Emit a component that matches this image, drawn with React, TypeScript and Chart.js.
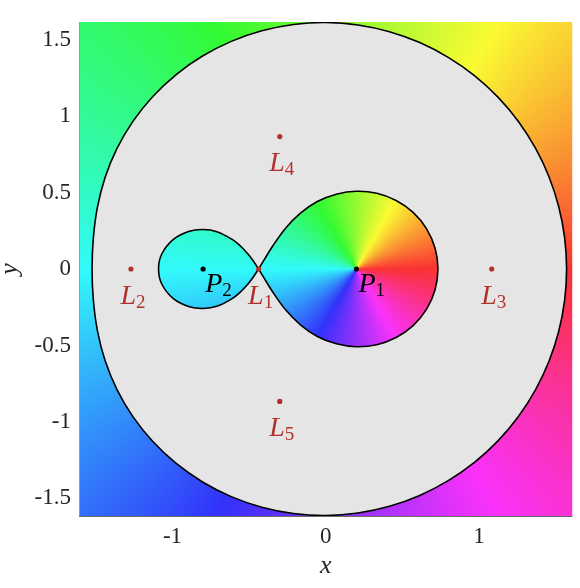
import React, { useEffect, useRef } from "react";
import { Chart, registerables } from "chart.js";

Chart.register(...registerables);

// ---- axes ----
const X_TICKS = [-1, 0, 1];
const X_TICK_LABELS = ["-1", "0", "1"];
const Y_TICKS = [-1.5, -1, -0.5, 0, 0.5, 1, 1.5];
const Y_TICK_LABELS = ["-1.5", "-1", "-0.5", "0", "0.5", "1", "1.5"];
const X_MIN = -1.61;
const X_MAX = 1.61;
const Y_MIN = -1.615;
const Y_MAX = 1.615;

// ---- outer zero-velocity curve (closed loop) ----
const OUTER_X = [1.5714, 1.5585, 1.5202, 1.4565, 1.3683, 1.257, 1.1236, 0.9702, 0.799, 0.6133, 0.4157, 0.2101, 0.0, -0.2105, -0.4174, -0.6165, -0.8039, -0.9758, -1.1283, -1.2583, -1.3628, -1.4405, -1.4906, -1.5166, -1.5248, -1.5166, -1.4906, -1.4405, -1.3628, -1.2583, -1.1283, -0.9758, -0.8039, -0.6165, -0.4174, -0.2105, 0.0, 0.2101, 0.4157, 0.6133, 0.799, 0.9702, 1.1236, 1.257, 1.3683, 1.4565, 1.5202, 1.5585];
const OUTER_Y = [0.0, 0.2052, 0.4073, 0.6033, 0.79, 0.9645, 1.1236, 1.2644, 1.3839, 1.4806, 1.5516, 1.5956, 1.6115, 1.5988, 1.5576, 1.4884, 1.3924, 1.2717, 1.1283, 0.9655, 0.7869, 0.5967, 0.3994, 0.1997, 0.0, -0.1997, -0.3994, -0.5967, -0.7869, -0.9655, -1.1283, -1.2717, -1.3924, -1.4884, -1.5576, -1.5988, -1.6115, -1.5956, -1.5516, -1.4806, -1.3839, -1.2644, -1.1236, -0.9645, -0.79, -0.6033, -0.4073, -0.2052];

// ---- lobe around P1 (starts and ends at L1) ----
const LOBE1_X = [-0.438, -0.406, -0.348, -0.262, -0.165, -0.055, 0.069, 0.2, 0.333, 0.459, 0.57, 0.657, 0.713, 0.732, 0.713, 0.657, 0.57, 0.459, 0.333, 0.2, 0.069, -0.055, -0.165, -0.262, -0.348, -0.406, -0.438];
const LOBE1_Y = [0.0, 0.053, 0.147, 0.267, 0.365, 0.441, 0.489, 0.508, 0.495, 0.448, 0.37, 0.264, 0.137, 0.0, -0.137, -0.264, -0.37, -0.448, -0.495, -0.508, -0.489, -0.441, -0.365, -0.267, -0.147, -0.053, 0.0];

// ---- lobe around P2 (starts and ends at L1) ----
const LOBE2_X = [-0.438, -0.476, -0.513, -0.55, -0.608, -0.711, -0.8, -0.89, -0.994, -1.07, -1.091, -1.07, -0.994, -0.89, -0.8, -0.711, -0.608, -0.55, -0.513, -0.476, -0.438];
const LOBE2_Y = [0.0, 0.057, 0.104, 0.144, 0.192, 0.244, 0.258, 0.247, 0.194, 0.098, 0.0, -0.098, -0.194, -0.247, -0.258, -0.244, -0.192, -0.144, -0.104, -0.057, 0.0];

// ---- primaries ----
const PRIMARY_NAMES = ["P", "P"];
const PRIMARY_SUBS = ["1", "2"];
const PRIMARY_X = [0.2, -0.8];
const PRIMARY_Y = [0, 0];

// ---- Lagrange points ----
const LAGRANGE_NAMES = ["L", "L", "L", "L", "L"];
const LAGRANGE_SUBS = ["1", "2", "3", "4", "5"];
const LAGRANGE_X = [-0.438, -1.271, 1.083, -0.3, -0.3];
const LAGRANGE_Y = [0, 0, 0, 0.866, -0.866];

const toPts = (xs: number[], ys: number[]) => xs.map((x, i) => ({ x, y: ys[i] }));

const LAG_COLOR = "#b2302a";
const GRAY = "#e5e5e5";
const SERIF = '"Liberation Serif", "DejaVu Serif", serif';

function hsv(h: number, s: number, v: number) {
  const f = (n: number) => {
    const k = (n + h / 60) % 6;
    return v - v * s * Math.max(0, Math.min(k, 4 - k, 1));
  };
  return `rgb(${Math.round(f(5) * 255)},${Math.round(f(3) * 255)},${Math.round(f(1) * 255)})`;
}

function hueGradient(ctx: CanvasRenderingContext2D, cx: number, cy: number) {
  const anyCtx = ctx as any;
  if (typeof anyCtx.createConicGradient !== "function") return null;
  const g = anyCtx.createConicGradient(0, cx, cy);
  for (let k = 0; k <= 12; k++) {
    const t = k / 12;
    const hue = (360 - 30 * k) % 360;
    g.addColorStop(t, hsv(hue, 0.8, 0.98));
  }
  return g;
}

function tracePath(chart: any, index: number) {
  const line = chart.getDatasetMeta(index).dataset;
  if (!line) return;
  if (typeof line.updateControlPoints === "function") line.updateControlPoints(chart.chartArea, "x");
  const ctx = chart.ctx;
  ctx.beginPath();
  if (typeof line.path === "function") {
    line.path(ctx);
  } else {
    line.points.forEach((p: any, i: number) => (i ? ctx.lineTo(p.x, p.y) : ctx.moveTo(p.x, p.y)));
  }
  ctx.closePath();
}

const hillPlugin = {
  id: "hill",
  afterDatasetUpdate(chart: any, args: any) {
    const ds = chart.data.datasets[args.index];
    if (ds && ds.closedLoop && args.meta.dataset) {
      args.meta.dataset._loop = true;
      args.meta.dataset._fullLoop = true;
    }
  },
  beforeDatasetsDraw(chart: any) {
    const { ctx, chartArea: a, scales } = chart;
    const cx = scales.x.getPixelForValue(PRIMARY_X[0]);
    const cy = scales.y.getPixelForValue(PRIMARY_Y[0]);
    const grad = hueGradient(ctx, cx, cy);
    ctx.save();
    ctx.beginPath();
    ctx.rect(a.left, a.top, a.right - a.left, a.bottom - a.top);
    ctx.clip();
    const paintHue = () => {
      if (grad) {
        ctx.fillStyle = grad;
        ctx.fill();
      } else {
        ctx.save();
        ctx.clip();
        for (let d = 0; d < 360; d++) {
          ctx.beginPath();
          ctx.moveTo(cx, cy);
          ctx.arc(cx, cy, 2000, (-d - 0.6) * Math.PI / 180, (-d + 0.6) * Math.PI / 180);
          ctx.closePath();
          ctx.fillStyle = hsv(d, 0.8, 0.98);
          ctx.fill();
        }
        ctx.restore();
      }
    };
    ctx.beginPath();
    ctx.rect(a.left, a.top, a.right - a.left, a.bottom - a.top);
    paintHue();
    tracePath(chart, 4);
    ctx.fillStyle = GRAY;
    ctx.fill();
    tracePath(chart, 2);
    paintHue();
    tracePath(chart, 3);
    paintHue();
    ctx.restore();
  },
  afterDatasetsDraw(chart: any) {
    const { ctx, chartArea: a, scales } = chart;
    ctx.save();
    ctx.lineWidth = 1;
    ctx.strokeStyle = "#9a9a9a";
    ctx.beginPath();
    ctx.moveTo(a.left + 0.5, a.top);
    ctx.lineTo(a.left + 0.5, a.bottom);
    ctx.stroke();
    ctx.strokeStyle = "#6e6e6e";
    ctx.beginPath();
    ctx.moveTo(a.left, a.bottom + 0.5);
    ctx.lineTo(a.right, a.bottom + 0.5);
    ctx.stroke();

    const drawLab = (main: string, sub: string, px: number, py: number, color: string) => {
      ctx.fillStyle = color;
      ctx.textBaseline = "alphabetic";
      ctx.textAlign = "left";
      ctx.font = `italic 28px ${SERIF}`;
      ctx.fillText(main, px, py);
      const w = ctx.measureText(main).width;
      ctx.font = `19px ${SERIF}`;
      ctx.fillText(sub, px + w, py + 4);
    };
    LAGRANGE_X.forEach((lx, i) => {
      const px = scales.x.getPixelForValue(lx);
      const py = scales.y.getPixelForValue(LAGRANGE_Y[i]);
      drawLab(LAGRANGE_NAMES[i], LAGRANGE_SUBS[i], px - 10.5, py + 34.5, LAG_COLOR);
    });
    PRIMARY_X.forEach((lx, i) => {
      const px = scales.x.getPixelForValue(lx);
      const py = scales.y.getPixelForValue(PRIMARY_Y[i]);
      drawLab(PRIMARY_NAMES[i], PRIMARY_SUBS[i], px + 2, py + 23, "#000000");
    });
    ctx.restore();
  },
};

export default function App() {
  const ref = useRef<HTMLCanvasElement | null>(null);
  useEffect(() => {
    if (!ref.current) return;
    const curve = (xs: number[], ys: number[], loop: boolean, tension: number) => ({
      data: toPts(xs, ys),
      showLine: true,
      borderColor: "#000000",
      borderWidth: 1.6,
      pointRadius: 0,
      fill: false,
      tension,
      capBezierPoints: false,
      closedLoop: loop,
    });
    const chart = new Chart(ref.current, {
      type: "line",
      data: {
        datasets: [
          {
            data: toPts(LAGRANGE_X, LAGRANGE_Y),
            showLine: false,
            pointRadius: 2.6,
            pointBorderWidth: 0,
            pointBackgroundColor: LAG_COLOR,
            borderColor: LAG_COLOR,
          } as any,
          {
            data: toPts(PRIMARY_X, PRIMARY_Y),
            showLine: false,
            pointRadius: 2.6,
            pointBorderWidth: 0,
            pointBackgroundColor: "#000000",
            borderColor: "#000000",
          } as any,
          curve(LOBE1_X, LOBE1_Y, false, 0.36) as any,
          curve(LOBE2_X, LOBE2_Y, false, 0.36) as any,
          curve(OUTER_X, OUTER_Y, true, 0.34) as any,
        ],
      },
      options: {
        responsive: false,
        animation: false,
        devicePixelRatio: 1,
        events: [],
        layout: { padding: { top: 22, right: 7.5, left: 0, bottom: 0 } },
        plugins: { legend: { display: false }, tooltip: { enabled: false } },
        scales: {
          x: {
            type: "linear",
            min: X_MIN,
            max: X_MAX,
            grid: { display: false, drawTicks: false },
            border: { display: false },
            afterBuildTicks: (s: any) => {
              s.ticks = X_TICKS.map((v) => ({ value: v }));
            },
            afterFit: (s: any) => {
              s.height = 72;
            },
            ticks: {
              padding: 7,
              maxRotation: 0,
              autoSkip: false,
              color: "#262626",
              font: { family: SERIF, size: 23 },
              callback: (v: any) => {
                const i = X_TICKS.indexOf(Number(v));
                return i >= 0 ? X_TICK_LABELS[i] : "";
              },
            },
            title: {
              display: true,
              text: "x",
              color: "#262626",
              font: { family: SERIF, size: 26, style: "italic", lineHeight: 1.2 },
              padding: { top: 0, bottom: 6 },
            },
          },
          y: {
            type: "linear",
            min: Y_MIN,
            max: Y_MAX,
            grid: { display: false, drawTicks: false },
            border: { display: false },
            afterBuildTicks: (s: any) => {
              s.ticks = Y_TICKS.map((v) => ({ value: v }));
            },
            afterFit: (s: any) => {
              s.width = 79;
            },
            ticks: {
              padding: 8,
              autoSkip: false,
              color: "#262626",
              font: { family: SERIF, size: 23 },
              callback: (v: any) => {
                const i = Y_TICKS.indexOf(Number(v));
                return i >= 0 ? Y_TICK_LABELS[i] : "";
              },
            },
            title: {
              display: true,
              text: "y",
              color: "#262626",
              font: { family: SERIF, size: 26, style: "italic", lineHeight: 0.75 },
              padding: { top: 0, bottom: 0 },
            },
          },
        },
      } as any,
      plugins: [hillPlugin as any],
    });
    return () => chart.destroy();
  }, []);
  return (
    <div style={{ position: "fixed", left: 0, top: 0, width: 580, height: 588 }}>
      <canvas ref={ref} width={580} height={588} style={{ width: 580, height: 588, display: "block" }} />
    </div>
  );
}
